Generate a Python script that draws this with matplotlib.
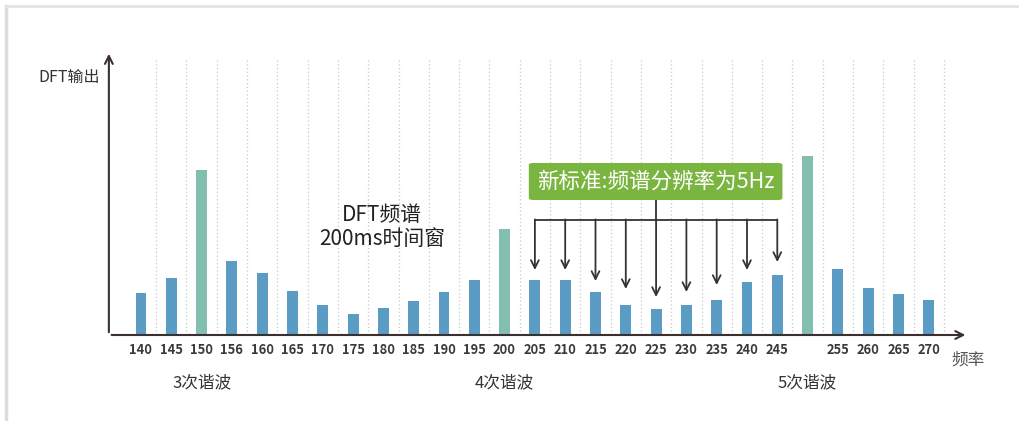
import matplotlib
matplotlib.use('Agg')
import matplotlib.pyplot as plt
from matplotlib.patches import FancyBboxPatch
from matplotlib.lines import Line2D

plt.rcParams['font.family'] = ['Noto Sans CJK SC', 'DejaVu Sans']

# frequencies (Hz) and DFT output (arbitrary units)
freqs = [140, 145, 150, 156, 160, 165, 170, 175, 180, 185, 190, 195, 200,
         205, 210, 215, 220, 225, 230, 235, 240, 245, 250, 255, 260, 265, 270]
tick_labels = ['140', '145', '150', '156', '160', '165', '170', '175', '180',
               '185', '190', '195', '200', '205', '210', '215', '220', '225',
               '230', '235', '240', '245', '', '255', '260', '265', '270']
values = [42, 57, 165, 74, 62, 44, 30, 21, 27, 34, 43, 55, 106,
          55, 55, 43, 30, 26, 30, 35, 53, 60, 179, 66, 47, 41, 35]
harmonic_freqs = [150, 200, 250]
harmonic_names = ['3次谐波', '4次谐波', '5次谐波']
# arrow targets (new standard, 5 Hz resolution) and arrow tip heights
arrow_freqs = [205, 210, 215, 220, 225, 230, 235, 240, 245]
arrow_tips = [65, 65, 54, 46, 38, 43, 50, 65, 73]

blue = '#5a9cc4'
teal = '#82bfae'
green = '#7ab540'
dark = '#333333'

fig = plt.figure(figsize=(10.2, 4.21), dpi=100)
ax = fig.add_axes([0, 0, 1, 1])
ax.set_xlim(-4.653, 29.01)
ax.set_ylim(-86, 335)
ax.axis('off')

xs = list(range(len(freqs)))
colors = [teal if f in harmonic_freqs else blue for f in freqs]

# dotted separators
for i in xs:
    ax.plot([i + 0.5, i + 0.5], [0, 275], color='#c8c8c8', lw=0.9,
            ls=(0, (1, 2)), zorder=1)

ax.bar(xs, values, width=0.36, color=colors, zorder=2)

# axes with arrows
ax.annotate('', xy=(27.3, 0), xytext=(-1.06, 0),
            arrowprops=dict(arrowstyle='->', lw=1.5, color='#3a3030',
                            mutation_scale=14), zorder=3)
ax.annotate('', xy=(-1.06, 284), xytext=(-1.06, 0),
            arrowprops=dict(arrowstyle='->', lw=1.5, color='#3a3030',
                            mutation_scale=14), zorder=3)

for i, lab in zip(xs, tick_labels):
    ax.text(i, -15, lab, ha='center', va='center', fontsize=9.3,
            color='#3a3a3a', fontweight='bold')

for f, name in zip(harmonic_freqs, harmonic_names):
    ax.text(freqs.index(f), -48, name, ha='center', va='center',
            fontsize=12, color='#333333')

ax.text(27.3, -25, '频率', ha='center', va='center', fontsize=12,
        color='#555555')
ax.text(-1.35, 258, 'DFT输出', ha='right', va='center', fontsize=11.5,
        color='#333333')

ax.text(7.95, 120, 'DFT频谱', ha='center', va='center', fontsize=15,
        color='#222222')
ax.text(7.95, 96, '200ms时间窗', ha='center', va='center',
        fontsize=15, color='#222222')

# green label box
x0 = freqs.index(205) - 0.2
x1 = freqs.index(245) + 0.17
box = FancyBboxPatch((x0, 135), x1 - x0, 37,
                     boxstyle='round,pad=0,rounding_size=0.15',
                     mutation_aspect=12, fc=green, ec='none', zorder=4)
ax.add_patch(box)
ax.text((x0 + x1) / 2, 153.5, '新标准:频谱分辨率为5Hz', ha='center',
        va='center', fontsize=15.5, color='white', zorder=5)

center = freqs.index(225)
ax.plot([center, center], [135, 115], color=dark, lw=1.3, zorder=3)
ax.plot([freqs.index(205), freqs.index(245)], [115, 115], color=dark,
        lw=1.3, zorder=3)
for f, tip in zip(arrow_freqs, arrow_tips):
    i = freqs.index(f)
    ax.annotate('', xy=(i, tip), xytext=(i, 115.6),
                arrowprops=dict(arrowstyle='->', lw=1.3, color=dark,
                                mutation_scale=14, shrinkA=0, shrinkB=0),
                zorder=3)

# light outer frame
fig.add_artist(Line2D([0.006, 0.006], [0, 0.985], color='#dcdcdc', lw=2.5))
fig.add_artist(Line2D([0.006, 1], [0.985, 0.985], color='#e4e4e4', lw=2))

fig.savefig('out.png', dpi=100)
